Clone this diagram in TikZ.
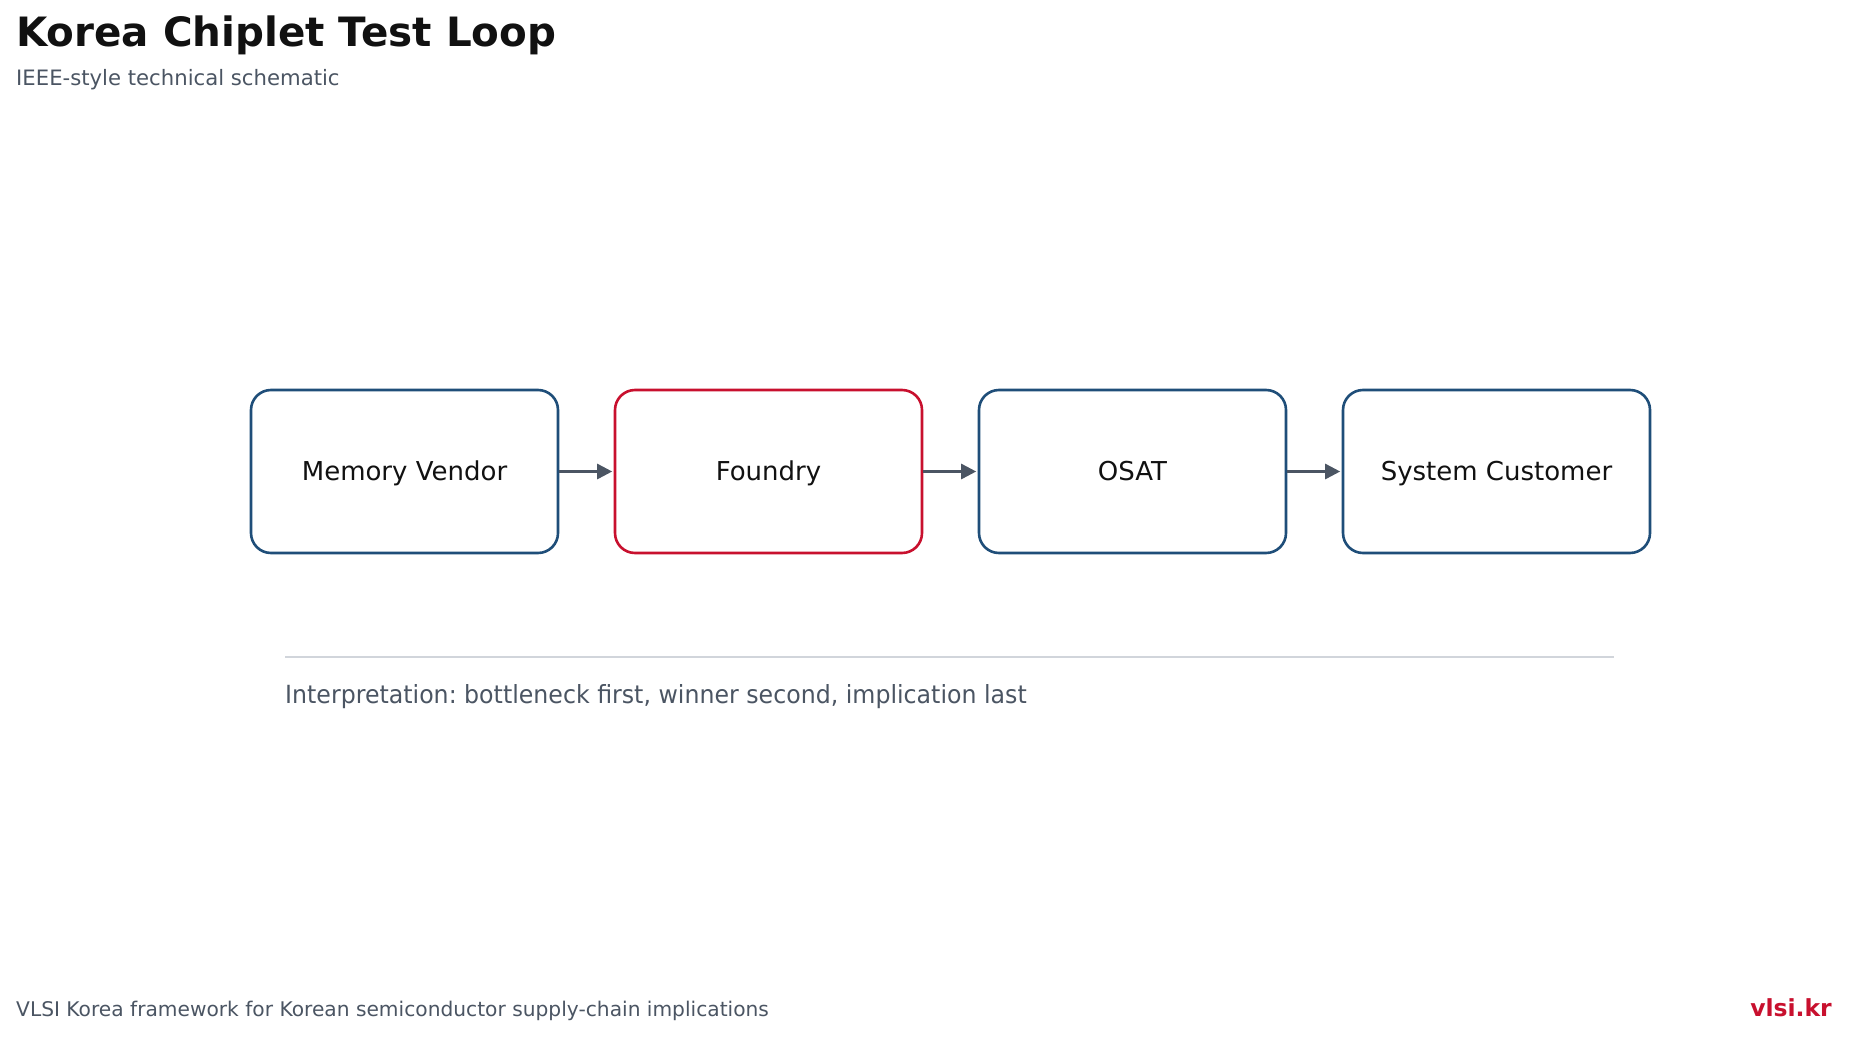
\documentclass[tikz,border=0pt]{standalone}
\usepackage{fontspec}
\usepackage{graphicx}
\setmainfont{DejaVu Sans}
\usetikzlibrary{arrows.meta}
\frenchspacing

\definecolor{ink}{HTML}{111111}
\definecolor{slate}{HTML}{4B5563}
\definecolor{navy}{HTML}{1F4E79}
\definecolor{accent}{HTML}{C8102E}
\definecolor{rule}{HTML}{D1D5DB}

\tikzset{
  stage/.style={draw=navy, line width=2.6pt, rounded corners=20pt, fill=white,
    minimum width=307pt, minimum height=163pt, inner sep=0pt,
    text height=18.4pt, text depth=0pt,
    text=ink, font=\fontsize{26}{30}\selectfont},
  hot/.style={stage, draw=accent},
  flow/.style={draw=slate, line width=2.6pt,
    -{Triangle[length=15pt,width=15pt]}, shorten >=1.5pt},
  label/.style={inner sep=0pt, anchor=base west}
}

\begin{document}
\begin{tikzpicture}[x=1pt,y=-1pt]
  \useasboundingbox[fill=white] (0,0) rectangle (1849,1038);

  % heading
  \node[label, text=ink] (title) at (16,47)
    {\fontsize{40.4}{44}\selectfont\bfseries Korea Chiplet Test Loop};
  \node[label, text=slate] (subtitle) at (16,86)
    {\fontsize{21.2}{24}\selectfont IEEE-style technical schematic};

  % the four stages of the loop
  \node[stage] (mem) at (404.5,471.5) {Memory Vendor};
  \node[hot]   (fab) at (768.5,471.5) {Foundry};
  \node[stage] (osat) at (1132.5,471.5) {OSAT};
  \node[stage] (cust) at (1496.5,471.5) {System Customer};

  \draw[flow] (mem) -- (fab);
  \draw[flow] (fab) -- (osat);
  \draw[flow] (osat) -- (cust);

  % separator and reading note
  \coordinate (ruleL) at (285,657);
  \coordinate (ruleR) at (1614,657);
  \draw[rule, line width=1.8pt] (ruleL) -- (ruleR);
  \node[label, text=slate] (note) at (285,703)
    {\scalebox{0.947}[1]{\fontsize{25}{30}\selectfont Interpretation: bottleneck first, winner second, implication last}};

  % footer
  \node[label, text=slate] (foot) at (16,1016)
    {\fontsize{20.2}{24}\selectfont VLSI Korea framework for Korean semiconductor supply-chain implications};
  \node[inner sep=0pt, anchor=base east, text=accent] (brand) at (1832,1016)
    {\fontsize{23.5}{26}\selectfont\bfseries vlsi.kr};
\end{tikzpicture}
\end{document}
